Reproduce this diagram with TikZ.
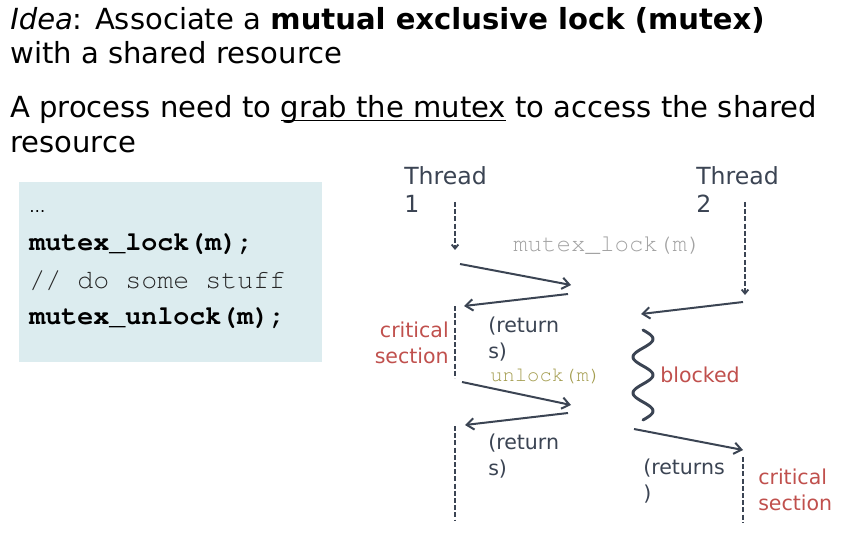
\documentclass[tikz,border=0pt]{standalone}
\usepackage[T1,TU]{fontenc}
\usepackage{fontspec}
\setmainfont{DejaVu Sans}
\setmonofont{Liberation Mono}
\usetikzlibrary{arrows.meta}
\definecolor{mxslate}{HTML}{3B4453}
\definecolor{mxred}{HTML}{C0504D}
\definecolor{mxgray}{HTML}{A3A3A3}
\definecolor{mxolive}{HTML}{A39C4E}
\definecolor{mxcode}{HTML}{DCECEF}
\newcommand\mxuline[1]{\setbox0=\hbox{#1}\rlap{\rule[-2.6pt]{\wd0}{1.1pt}}\box0\relax}
\newcommand\mxcour{\fontencoding{T1}\fontfamily{pcr}\selectfont}
\tikzset{
  mx/title/.style={anchor=base west, inner sep=0pt, align=left,
    font=\fontsize{21.8}{25.5}\selectfont},
  mx/thread/.style={anchor=base west, inner sep=0pt, align=left, text=mxslate,
    font=\fontsize{17.7}{21}\selectfont},
  mx/note/.style={anchor=base west, inner sep=0pt, align=left, text=mxslate,
    font=\fontsize{15.4}{19}\selectfont},
  mx/crit/.style={mx/note, text=mxred},
  mx/code/.style={anchor=base west, inner sep=0pt, font=\mxcour\fontsize{20}{28}\selectfont},
  mx/arr/.style={-{Straight Barb[length=5.5pt,width=8.5pt]}, mxslate, line width=1.5pt},
  mx/life/.style={mxslate, line width=1.4pt, dash pattern=on 3.8pt off 1.6pt},
  mx/start/.style={mx/life, -{Straight Barb[length=3pt,width=5pt]}}
}
\begin{document}
\begin{tikzpicture}[x=0.75pt, y=-0.75pt]
  \useasboundingbox (0,0) rectangle (844,535);

  % --- heading (base = last line) ---
  \node[mx/title] (idea) at (10,64)
    {{\itshape Idea}: Associate a \textbf{mutual exclusive lock (mutex)}\\with a shared resource};
  \node[mx/title] (grab) at (10,152)
    {A process need to \mxuline{grab the mutex} to access the shared\\resource};

  % --- code ---
  \node[fill=mxcode, anchor=north west, inner sep=0pt,
    minimum width=227.25pt, minimum height=135pt] (codebox) at (19,182) {};
  \node[anchor=base west, inner sep=0pt, font=\fontsize{12}{14}\selectfont] (dots) at (29,213) {…};
  \node[mx/code, font=\mxcour\bfseries\fontsize{20}{28}\selectfont] (lock) at (29,251) {mutex\_lock(m);};
  \node[mx/code, text=black!85] (stuff) at (29,288) {// do some stuff};
  \node[mx/code, font=\mxcour\bfseries\fontsize{20}{28}\selectfont] (unlock) at (29,325) {mutex\_unlock(m);};

  % --- threads ---
  \node[mx/thread] (th1) at (404,213) {Thread\\1};
  \node[mx/thread] (th2) at (696,213) {Thread\\2};

  \coordinate (t1a) at (455,202);  \coordinate (t1b) at (455,250);
  \coordinate (t2a) at (745,202);  \coordinate (t2b) at (745,295);
  \coordinate (l1a) at (460,264);  \coordinate (l1b) at (571,285);
  \coordinate (r1a) at (568,294);  \coordinate (r1b) at (464,306);
  \coordinate (l2a) at (743,302);  \coordinate (l2b) at (641,314);
  \coordinate (c1a) at (455,306);  \coordinate (c1b) at (455,378);
  \coordinate (u1a) at (462,382);  \coordinate (u1b) at (571,405);
  \coordinate (r2a) at (568,413);  \coordinate (r2b) at (465,425);
  \coordinate (e1a) at (455,426);  \coordinate (e1b) at (455,520);
  \coordinate (w2a) at (634,429);  \coordinate (w2b) at (743,450);
  \coordinate (c2a) at (743,457);  \coordinate (c2b) at (743,522);

  \draw[mx/start] (t1a) -- (t1b);
  \draw[mx/start] (t2a) -- (t2b);
  \draw[mx/life] (c1a) -- (c1b);
  \draw[mx/life] (e1a) -- (e1b);
  \draw[mx/life] (c2a) -- (c2b);

  \draw[mx/arr] (l1a) -- (l1b);
  \draw[mx/arr] (r1a) -- (r1b);
  \draw[mx/arr] (l2a) -- (l2b);
  \draw[mx/arr] (u1a) -- (u1b);
  \draw[mx/arr] (r2a) -- (r2b);
  \draw[mx/arr] (w2a) -- (w2b);

  % blocked
  \draw[mxslate, line width=2.2pt, line cap=round]
    plot[domain=0:90, samples=91, smooth] ({643+10*sin(10*\x)}, {330+\x});

  % --- labels ---
  \node[mx/code, text=mxgray, font=\mxcour\fontsize{18.1}{21}\selectfont] (lockcall) at (513,252) {mutex\_lock(m)};
  \node[mx/code, text=mxolive, font=\mxcour\fontsize{15.4}{18}\selectfont] (unlockcall) at (490,381) {unlock(m)};
  \node[mx/crit, anchor=base east, align=right] (crit1) at (449,363) {critical\\section};
  \node[mx/note] (ret1) at (488,358) {(return\\s)};
  \node[mx/crit] (blocked) at (660,382) {blocked};
  \node[mx/note] (ret2) at (488,475) {(return\\s)};
  \node[mx/note] (ret3) at (643,500) {(returns\\)};
  \node[mx/crit] (crit2) at (758,510) {critical\\section};
\end{tikzpicture}
\end{document}
